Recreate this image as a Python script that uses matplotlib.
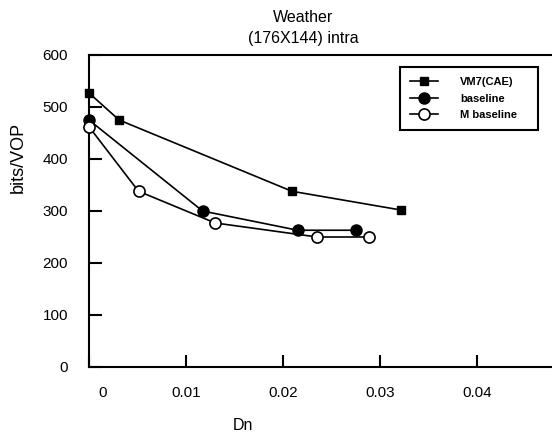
import numpy as np
import matplotlib
matplotlib.use('Agg')
import matplotlib.pyplot as plt
import matplotlib.transforms as mtransforms

plt.rcParams['font.family'] = ['Liberation Sans', 'DejaVu Sans']

# data
vm7_x = [0.0, 0.0031, 0.0209, 0.0321]
vm7_y = [527, 475, 338, 302]
base_x = [0.0, 0.0117, 0.0215, 0.0275]
base_y = [475, 300, 263, 263]
mbase_x = [0.0, 0.0051, 0.0130, 0.0235, 0.0288]
mbase_y = [462, 338, 277, 250, 250]

xticks = [0, 0.01, 0.02, 0.03, 0.04]
xtick_labels = ['0', '0.01', '0.02', '0.03', '0.04']
yticks = [0, 100, 200, 300, 400, 500, 600]

fig = plt.figure(figsize=(5.52, 4.38), dpi=100)
ax = fig.add_axes([89/552, 71/438, 1 - 89/552, 312/438])

ax.plot(vm7_x, vm7_y, color='black', lw=1.2, marker='s', ms=6,
        mfc='black', mec='black', label='VM7(CAE)', clip_on=False, zorder=3)
ax.plot(base_x, base_y, color='black', lw=1.2, marker='o', ms=8,
        mfc='black', mec='black', label='baseline', clip_on=False, zorder=3)
ax.plot(mbase_x, mbase_y, color='black', lw=1.2, marker='o', ms=8,
        mfc='white', mec='black', mew=1.2, label='M baseline', clip_on=False, zorder=4)

ax.set_xlim(0, 0.0477)
ax.set_ylim(0, 600)
ax.set_xticks(xticks)
ax.set_xticklabels(xtick_labels)
ax.set_yticks(yticks)

ax.spines['right'].set_visible(False)
for s in ['left', 'bottom', 'top']:
    ax.spines[s].set_linewidth(1.5)
ax.tick_params(direction='in', length=9, width=1.5, labelsize=11, pad=14)
ax.tick_params(axis='y', pad=15)

# the scanned "0" sits a bit right of the axis
lab0 = ax.get_xticklabels()[0]
lab0.set_transform(lab0.get_transform() +
                   mtransforms.ScaledTranslation(14/100, 0, fig.dpi_scale_trans))

fig.text(303/552, 1 - 18/438, 'Weather', ha='center', va='center', fontsize=11.5)
fig.text(303/552, 1 - 39/438, '(176X144) intra', ha='center', va='center', fontsize=11.5)
fig.text(18/552, 1 - 157/438, 'bits/VOP', rotation=90, ha='center', va='center', fontsize=13)
fig.text(243/552, 1 - 425/438, 'Dn', ha='center', va='center', fontsize=11.5)

leg = ax.legend(loc='upper left', bbox_to_anchor=(400/552, 1 - 132/438, 138/552, 65/438),
                bbox_transform=fig.transFigure, borderaxespad=0, mode='expand',
                fancybox=False, edgecolor='black', framealpha=1,
                prop={'size': 8, 'weight': 'bold'}, handlelength=2.5,
                borderpad=0.9, labelspacing=0.6, handletextpad=2.0)
leg.get_frame().set_linewidth(1.5)

fig.savefig('out.png', dpi=100)
